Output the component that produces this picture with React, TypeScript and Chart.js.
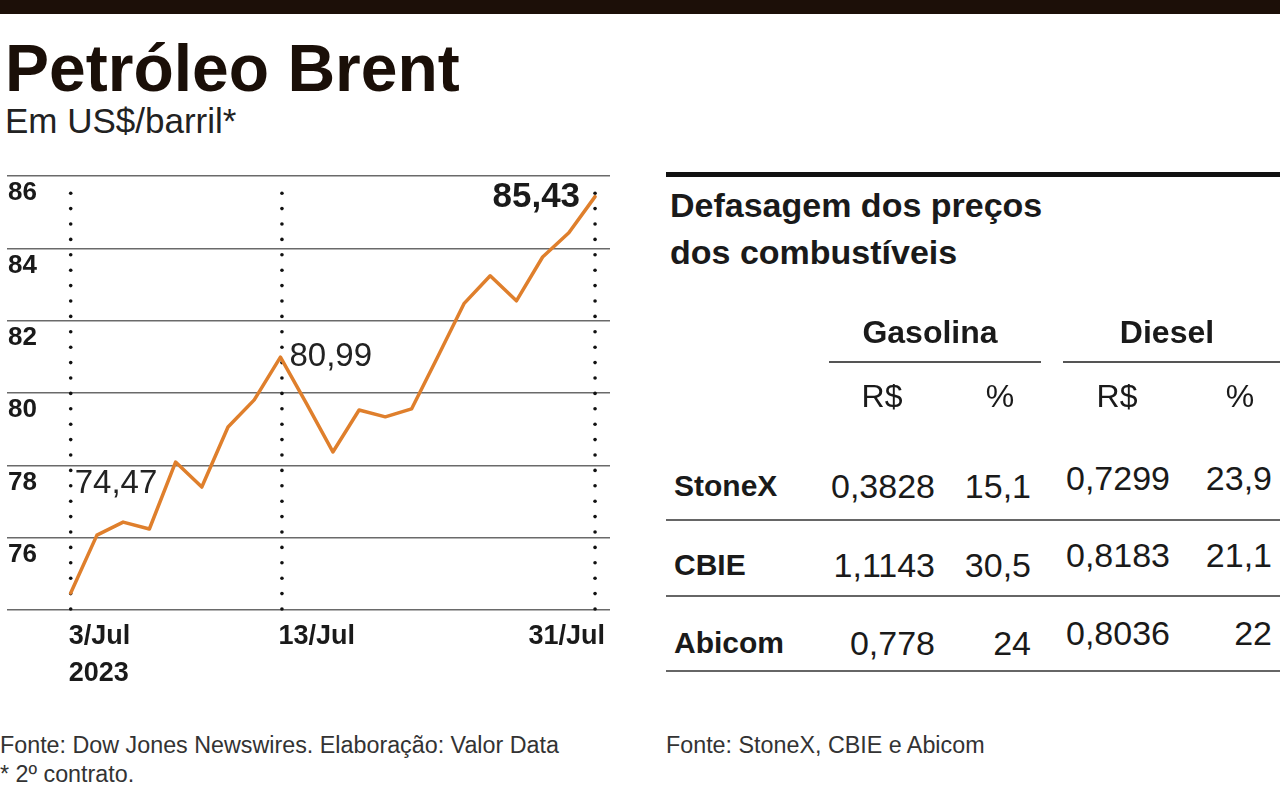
import React, { useEffect, useRef } from "react";
import { Chart, registerables } from "chart.js";

Chart.register(...registerables);

// ---- Data ----
const dates = [
  "3/Jul", "4/Jul", "5/Jul", "6/Jul", "7/Jul", "10/Jul", "11/Jul", "12/Jul", "13/Jul", "14/Jul",
  "17/Jul", "18/Jul", "19/Jul", "20/Jul", "21/Jul", "24/Jul", "25/Jul", "26/Jul", "27/Jul", "28/Jul", "31/Jul",
];
const brent = [
  74.47, 76.07, 76.43, 76.24, 78.09, 77.4, 79.06, 79.81, 80.99, 79.7,
  78.37, 79.53, 79.34, 79.56, 81.0, 82.47, 83.24, 82.55, 83.76, 84.43, 85.43,
];
const yTicks = [74, 76, 78, 80, 82, 84, 86];
const markedIdx = [0, 8, 20];
const axisLabels = ["3/Jul", "13/Jul", "31/Jul"];

const rowNames = ["StoneX", "CBIE", "Abicom"];
const gasolinaRS = ["0,3828", "1,1143", "0,778"];
const gasolinaPct = ["15,1", "30,5", "24"];
const dieselRS = ["0,7299", "0,8183", "0,8036"];
const dieselPct = ["23,9", "21,1", "22"];

const FONT = "'Liberation Sans', Arial, sans-serif";
const INK = "#1a1a1a";
const ORANGE = "#df7f2c";

function T(props: {
  x: number; y: number; size: number; weight?: number; align?: "left" | "right" | "center";
  color?: string; children: React.ReactNode;
}) {
  const { x, y, size, weight = 400, align = "left", color = INK, children } = props;
  const style: React.CSSProperties = {
    position: "absolute",
    top: y - 0.49 * size,
    fontFamily: FONT,
    fontSize: size,
    lineHeight: `${size}px`,
    fontWeight: weight,
    color,
    whiteSpace: "nowrap",
  };
  if (align === "left") style.left = x;
  else if (align === "right") { style.right = 1280 - x; style.textAlign = "right"; }
  else { style.left = x - 400; style.width = 800; style.textAlign = "center"; }
  return <div style={style}>{children}</div>;
}

function Rule(props: { x1: number; x2: number; y: number; h: number; color: string }) {
  const { x1, x2, y, h, color } = props;
  return <div style={{ position: "absolute", left: x1, width: x2 - x1, top: y - h / 2, height: h, background: color }} />;
}

export default function App() {
  const ref = useRef<HTMLCanvasElement>(null);

  useEffect(() => {
    if (!ref.current) return;
    const decor = {
      id: "decor",
      beforeDatasetsDraw(chart: any) {
        const { ctx, scales } = chart;
        const xs = scales.x, ys = scales.y;
        const bottom = ys.getPixelForValue(74);
        const top = ys.getPixelForValue(86) + 12;
        ctx.save();
        ctx.fillStyle = "#111";
        markedIdx.forEach((i) => {
          const px = xs.getPixelForValue(i) + (i === 8 ? 1.5 : 0);
          for (let py = bottom - 1; py >= top; py -= 15.4) {
            ctx.beginPath();
            ctx.arc(px, py, 1.8, 0, Math.PI * 2);
            ctx.fill();
          }
        });
        ctx.restore();
      },
      afterDraw(chart: any) {
        const { ctx, scales } = chart;
        const xs = scales.x, ys = scales.y;
        ctx.save();
        ctx.fillStyle = INK;
        ctx.textBaseline = "middle";
        // x labels
        ctx.font = `bold 27px ${FONT}`;
        const yl = ys.getPixelForValue(74) + 27;
        ctx.textAlign = "left";
        ctx.fillText(axisLabels[0], xs.getPixelForValue(markedIdx[0]) - 2, yl);
        ctx.fillText("2023", xs.getPixelForValue(markedIdx[0]) - 2, yl + 37);
        ctx.fillText(axisLabels[1], xs.getPixelForValue(markedIdx[1]) - 2, yl);
        ctx.textAlign = "right";
        ctx.fillText(axisLabels[2], xs.getPixelForValue(markedIdx[2]) + 10, yl);
        // value annotations
        const fmt = (v: number) => v.toFixed(2).replace(".", ",");
        ctx.font = `33px ${FONT}`;
        ctx.textAlign = "left";
        ctx.fillStyle = "#222";
        ctx.fillText(fmt(brent[0]), xs.getPixelForValue(0) + 4, ys.getPixelForValue(78) + 19);
        ctx.fillText(fmt(brent[8]), xs.getPixelForValue(8) + 9, ys.getPixelForValue(81));
        ctx.font = `bold 35px ${FONT}`;
        ctx.textAlign = "right";
        ctx.fillStyle = INK;
        ctx.fillText(fmt(brent[20]), xs.getPixelForValue(20) - 15, ys.getPixelForValue(86) + 21);
        ctx.restore();
      },
    };

    const chart = new Chart(ref.current, {
      type: "line",
      data: {
        datasets: [
          {
            label: "Brent",
            data: brent.map((v, i) => ({ x: i, y: v })),
            borderColor: ORANGE,
            borderWidth: 3.5,
            pointRadius: 0,
            tension: 0,
            borderJoinStyle: "round",
            borderCapStyle: "round",
          },
        ],
      },
      options: {
        animation: false,
        responsive: false,
        maintainAspectRatio: false,
        layout: { padding: { left: 5, right: 10, top: 26, bottom: 100 } },
        plugins: { legend: { display: false }, tooltip: { enabled: false } },
        scales: {
          x: {
            type: "linear",
            min: -2.43,
            max: 20.57,
            display: false,
          },
          y: {
            min: 74,
            max: 86,
            afterBuildTicks: (s: any) => { s.ticks = yTicks.map((v) => ({ value: v })); },
            border: { display: false },
            grid: { color: "#6a6a6a", lineWidth: 1.6, drawTicks: false },
            ticks: {
              mirror: true,
              padding: 1,
              labelOffset: 17,
              color: INK,
              font: { family: FONT, size: 26, weight: "bold" },
              callback: (v: any) => (v === 74 ? "" : String(v)),
            },
          },
        },
      },
      plugins: [decor],
    } as any);
    return () => chart.destroy();
  }, []);

  const rowY = [486, 565, 643];
  const dieselY = [478, 555, 633];

  return (
    <div style={{ position: "absolute", left: 0, top: 0, width: 1280, height: 786, background: "#fff", overflow: "hidden" }}>
      <Rule x1={0} x2={1280} y={7} h={14} color="#1c0f08" />
      <T x={5} y={67} size={66} weight={700} color="#1a0f08">Petróleo Brent</T>
      <T x={5} y={120} size={35} color="#222">Em US$/barril*</T>

      <canvas ref={ref} width={620} height={560} style={{ position: "absolute", left: 0, top: 150 }} />

      <Rule x1={666} x2={1280} y={174} h={5} color="#111" />
      <T x={670} y={205} size={34} weight={700}>Defasagem dos preços</T>
      <T x={670} y={252} size={34} weight={700}>dos combustíveis</T>

      <T x={930} y={332} size={32} weight={700} align="center">Gasolina</T>
      <T x={1167} y={332} size={32} weight={700} align="center">Diesel</T>
      <Rule x1={829} x2={1041} y={362} h={2} color="#555" />
      <Rule x1={1063} x2={1280} y={362} h={2} color="#555" />
      <T x={882} y={396} size={32} align="center">R$</T>
      <T x={1000} y={396} size={32} align="center">%</T>
      <T x={1117} y={396} size={32} align="center">R$</T>
      <T x={1240} y={396} size={32} align="center">%</T>

      {rowNames.map((n, i) => (
        <React.Fragment key={n}>
          <T x={674} y={rowY[i]} size={30} weight={700}>{n}</T>
          <T x={935} y={rowY[i]} size={34} align="right">{gasolinaRS[i]}</T>
          <T x={1031} y={rowY[i]} size={34} align="right">{gasolinaPct[i]}</T>
          <T x={1170} y={dieselY[i]} size={34} align="right">{dieselRS[i]}</T>
          <T x={1272} y={dieselY[i]} size={34} align="right">{dieselPct[i]}</T>
          <Rule x1={666} x2={1280} y={[520, 596, 671][i]} h={2} color="#666" />
        </React.Fragment>
      ))}

      <T x={0} y={745} size={23.3} color="#333">Fonte: Dow Jones Newswires. Elaboração: Valor Data</T>
      <T x={0} y={774} size={23.3} color="#333">* 2º contrato.</T>
      <T x={666} y={745} size={23.3} color="#333">Fonte: StoneX, CBIE e Abicom</T>
    </div>
  );
}
